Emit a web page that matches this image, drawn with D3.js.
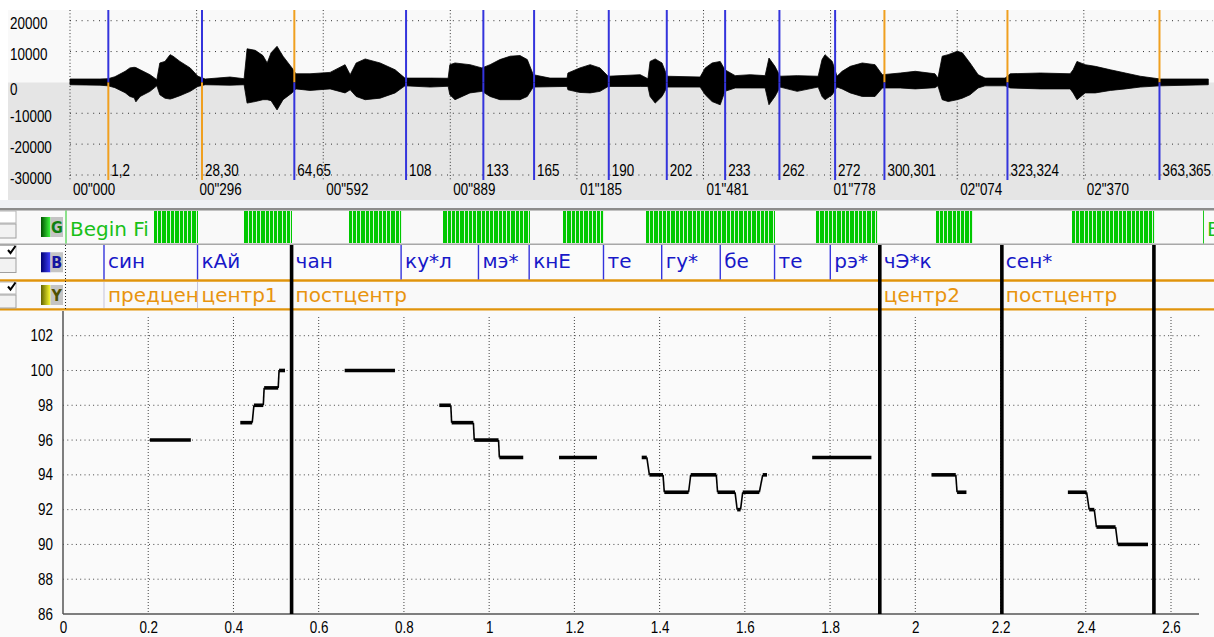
<!doctype html>
<html lang="ru">
<head>
<meta charset="utf-8">
<title>Pitch contour</title>
<script src="https://cdn.jsdelivr.net/npm/d3@7"></script>
<style>
  body { margin: 0; background: #fff; }
  svg { display: block; }
</style>
</head>
<body>
<svg id="chart" width="1214" height="637"></svg>
<script>

// ---- waveform envelope: time (s), upper and lower amplitude
var waveT = [0, 0.070, 0.089, 0.105, 0.129, 0.140, 0.150, 0.154, 0.164, 0.187,
  0.203, 0.210, 0.222, 0.234, 0.241, 0.257, 0.281, 0.299, 0.316, 0.374,
  0.407, 0.414, 0.433, 0.451, 0.461, 0.470, 0.484, 0.498, 0.519, 0.528,
  0.561, 0.608, 0.643, 0.655, 0.669, 0.690, 0.725, 0.760, 0.783, 0.842,
  0.884, 0.888, 0.900, 0.935, 0.963, 0.982, 1.005, 1.029, 1.052, 1.069,
  1.083, 1.122, 1.162, 1.164, 1.192, 1.216, 1.239, 1.258, 1.333, 1.351,
  1.356, 1.368, 1.384, 1.396, 1.473, 1.485, 1.501, 1.520, 1.531, 1.555,
  1.590, 1.625, 1.634, 1.648, 1.660, 1.700, 1.749, 1.758, 1.765, 1.782,
  1.793, 1.805, 1.824, 1.852, 1.882, 1.899, 1.941, 1.976, 2.022, 2.029,
  2.039, 2.053, 2.074, 2.086, 2.104, 2.123, 2.139, 2.186, 2.198, 2.268,
  2.338, 2.345, 2.354, 2.373, 2.397, 2.432, 2.467, 2.502, 2.549, 2.661];
var waveMax = [1100,1100,1200,1850,3600,4700,4900,4800,4100,2500,
  900,6300,6800,9000,8500,6800,4700,2000,1100,1750,
  1200,10900,10400,8700,6300,9600,11700,8500,4700,2800,
  2800,3250,5750,2500,6300,7600,6300,4100,1400,1400,
  1350,5750,6300,5750,4700,5750,7400,8500,8700,7400,
  2500,1400,1400,3050,4700,5750,4700,2000,2500,1200,
  6800,7600,6300,2000,1750,4700,6300,6800,4100,2200,
  2500,2200,7900,5200,2000,2200,2000,7400,9000,6800,
  2000,3600,5200,6300,5750,2500,3050,3600,2800,1400,
  8500,9000,10100,9600,6300,2500,1400,1400,2800,3050,
  2800,4100,6800,5750,5200,4100,3050,2000,1100,1100];
var waveMin = [-750,-900,-1100,-1700,-3350,-4550,-5000,-6300,-4550,-2900,
  -1100,-4000,-5100,-5400,-5100,-4300,-2900,-1300,-750,-900,
  -750,-6700,-6200,-5600,-5600,-5900,-8900,-5600,-3400,-2100,
  -2600,-2100,-3400,-2400,-4550,-5600,-5100,-3400,-1100,-1500,
  -1250,-4000,-5600,-3400,-2900,-4550,-5600,-5600,-5600,-4550,
  -1500,-1400,-1300,-2400,-3250,-3400,-2900,-1300,-1300,-1300,
  -4550,-6700,-4550,-1500,-1500,-4000,-6200,-7250,-2900,-1800,
  -1800,-1800,-7250,-4550,-1500,-2900,-1500,-4550,-5600,-4000,
  -1500,-2100,-3400,-4550,-4550,-1800,-1800,-2100,-1700,-1100,
  -5600,-6200,-5600,-5100,-4000,-1800,-1100,-1100,-1800,-2100,
  -2100,-3400,-5600,-3400,-3400,-2600,-2100,-1500,-1100,-750];

var waveAmpTicks = [20000, 10000, 0, -10000, -20000, -30000];
var waveTimeTicks = [0, 0.296, 0.592, 0.889, 1.185, 1.481, 1.778, 2.074, 2.370];
var waveTimeLabels = ['00"000', '00"296', '00"592', '00"889', '01"185', '01"481', '01"778', '02"074', '02"370'];

// period marks on the waveform: time, label, colour above / below zero
var markT = [0.0896, 0.3086, 0.5244, 0.7856, 0.9663, 1.0849, 1.2595, 1.3951, 1.5315, 1.6584, 1.7886, 1.9039, 2.1915, 2.5469];
var markLabel = ["1,2", "28,30", "64,65", "108", "133", "165", "190", "202", "233", "262", "272", "300,301", "323,324", "363,365"];
var markTop = ["b", "b", "o", "b", "b", "b", "b", "b", "b", "b", "b", "o", "o", "o"];
var markBottom = ["o", "o", "b", "b", "b", "b", "b", "b", "b", "b", "b", "b", "b", "b"];

// tiers
var bTimes = [0.0962, 0.3157, 0.5364, 0.7934, 0.9749, 1.0939, 1.2683, 1.4049, 1.5423, 1.6697, 1.8005, 1.9167, 2.2031, 2.5599];
var bLabels = ["син", "кАй", "чан", "ку*л", "мэ*", "кнЕ", "те", "гу*", "бе", "те", "рэ*", "чЭ*к", "сен*"];
var yBoundIdx = [0, 1, 2, 11, 12, 13];
var yLabels = ["предцентр", "центр1", "постцентр", "центр2", "постцентр"];
var gLabel = "Begin File";

// pitch contours (semitones): [start s, end s, value]
var pitchContours = [
  [[0.204, 0.300, 96]],
  [[0.416, 0.444, 97], [0.448, 0.470, 98], [0.472, 0.505, 99], [0.507, 0.521, 100]],
  [[0.661, 0.779, 100]],
  [[0.883, 0.910, 98], [0.912, 0.963, 97], [0.965, 1.022, 96], [1.024, 1.080, 95]],
  [[1.164, 1.253, 95]],
  [[1.358, 1.370, 95], [1.376, 1.408, 94], [1.411, 1.468, 93], [1.473, 1.533, 94],
   [1.536, 1.577, 93], [1.582, 1.590, 92], [1.595, 1.634, 93], [1.642, 1.652, 94]],
  [[1.758, 1.897, 95]],
  [[2.038, 2.095, 94], [2.098, 2.120, 93]],
  [[2.358, 2.402, 93], [2.408, 2.420, 92], [2.425, 2.470, 91], [2.475, 2.546, 90]]
];
var pitchXTicks = [0, 0.2, 0.4, 0.6, 0.8, 1, 1.2, 1.4, 1.6, 1.8, 2, 2.2, 2.4, 2.6];
var pitchYTicks = [86, 88, 90, 92, 94, 96, 98, 100, 102];

var BLUE = "#3434dc", ORANGE = "#f0a020";
var svg = d3.select("#chart");

var waveX = d3.scaleLinear().domain([0, 2.672]).range([70, 1213]);
var waveY = d3.scaleLinear().domain([-30000, 20000]).range([175, 20.7]);
var px = d3.scaleLinear().domain([0, 2.6]).range([63, 1171]);
var py = d3.scaleLinear().domain([86, 102]).range([614, 335.7]);

// narrow sans text
function nlabel(g, x, y, s, anchor) {
  return g.append("text")
    .attr("transform", "translate(" + x + "," + y + ") scale(0.84,1)")
    .attr("text-anchor", anchor || "start")
    .style("font-family", "'Liberation Sans', Arial, sans-serif")
    .style("font-size", "16px")
    .attr("fill", "#000")
    .text(s);
}

// cut a label down to the room of its interval, like the editor does
function fitText(sel, maxW) {
  var node = sel.node(), s = sel.text();
  while (s.length > 1 && node.getComputedTextLength() > maxW) {
    s = s.slice(0, -1);
    sel.text(s);
  }
  return sel;
}

// ================= waveform panel =================
var zeroY = waveY(0);
svg.append("rect").attr("x", 8).attr("y", 10).attr("width", 1206).attr("height", zeroY - 10).attr("fill", "#f9f9f9");
svg.append("rect").attr("x", 8).attr("y", zeroY).attr("width", 1206).attr("height", 200 - zeroY).attr("fill", "#e5e5e5");
svg.append("rect").attr("x", 0).attr("y", 200).attr("width", 1214).attr("height", 9).attr("fill", "#eff1f5");

var wave = svg.append("g");
waveAmpTicks.filter(function (v) { return v != 0; }).forEach(function (v) {
  wave.append("line").attr("x1", 70).attr("x2", 1213).attr("y1", waveY(v)).attr("y2", waveY(v))
    .attr("stroke", "#333").attr("stroke-dasharray", "1,4.8");
});
waveTimeTicks.forEach(function (t) {
  wave.append("line").attr("x1", waveX(t)).attr("x2", waveX(t)).attr("y1", 10).attr("y2", 180)
    .attr("stroke", "#333").attr("stroke-dasharray", "1,2.3");
});

var env = waveT.map(function (t, i) { return [t, waveMax[i], waveMin[i]]; });
wave.append("path").datum(env)
  .attr("d", d3.area().x(function (d) { return waveX(d[0]); })
    .y0(function (d) { return waveY(d[2]); }).y1(function (d) { return waveY(d[1]); }))
  .attr("fill", "#000").attr("stroke", "#000").attr("stroke-width", 0.8);

markT.forEach(function (t, i) {
  var x = waveX(t);
  wave.append("line").attr("x1", x).attr("x2", x).attr("y1", 10).attr("y2", zeroY)
    .attr("stroke", markTop[i] == "b" ? BLUE : ORANGE).attr("stroke-width", 2);
  wave.append("line").attr("x1", x).attr("x2", x).attr("y1", zeroY).attr("y2", 180)
    .attr("stroke", markBottom[i] == "b" ? BLUE : ORANGE).attr("stroke-width", 2);
  nlabel(wave, x + 3, 176, markLabel[i]);
});

waveAmpTicks.forEach(function (v) {
  nlabel(wave, 10, waveY(v) + (v == 0 ? 13 : 8.5), String(v));
});
waveTimeTicks.forEach(function (t, i) {
  nlabel(wave, waveX(t) + 3, 195, waveTimeLabels[i]);
});

// ================= tiers =================
var tierFont = "'DejaVu Sans', Verdana, sans-serif";
var tiers = svg.append("g");
var defs = svg.append("defs");

tiers.append("rect").attr("x", 0).attr("y", 210).attr("width", 1214).attr("height", 34).attr("fill", "#f9f9f9");
tiers.append("rect").attr("x", 0).attr("y", 245).attr("width", 1214).attr("height", 34.5).attr("fill", "#fbfbfb");
tiers.append("rect").attr("x", 0).attr("y", 281.5).attr("width", 1214).attr("height", 27).attr("fill", "#f9f9f9");

tiers.append("line").attr("x1", 0).attr("x2", 1214).attr("y1", 209.3).attr("y2", 209.3).attr("stroke", "#8c8c8c").attr("stroke-width", 2.4);
tiers.append("line").attr("x1", 0).attr("x2", 1214).attr("y1", 244.2).attr("y2", 244.2).attr("stroke", "#a8a8a8").attr("stroke-width", 1.6);
tiers.append("line").attr("x1", 0).attr("x2", 1214).attr("y1", 280.5).attr("y2", 280.5).attr("stroke", "#e0940c").attr("stroke-width", 2.4);
tiers.append("line").attr("x1", 0).attr("x2", 1214).attr("y1", 309.5).attr("y2", 309.5).attr("stroke", "#e0940c").attr("stroke-width", 2.4);

// tier headers
var heads = [
  {top: 210.5, h: 33, letter: "G", dark: "#005000", light: "#40ff40", ink: "#108010", check: false},
  {top: 245, h: 34.5, letter: "B", dark: "#000070", light: "#4040ff", ink: "#1414a0", check: true},
  {top: 281.5, h: 27, letter: "Y", dark: "#606000", light: "#ffff30", ink: "#505000", check: true}
];
heads.forEach(function (hd, i) {
  var grad = defs.append("linearGradient").attr("id", "grad" + i);
  grad.append("stop").attr("offset", "0%").attr("stop-color", hd.dark);
  grad.append("stop").attr("offset", "100%").attr("stop-color", hd.light);
  tiers.append("rect").attr("x", -1).attr("y", hd.top + 0.5).attr("width", 17).attr("height", 12)
    .attr("fill", "#fff").attr("stroke", "#b4b4b4");
  tiers.append("rect").attr("x", -1).attr("y", hd.top + 13.5).attr("width", 17).attr("height", Math.min(14, hd.h - 14))
    .attr("fill", "#f2f2f2").attr("stroke", "#a0a0a0");
  if (hd.check) {
    tiers.append("path").attr("d", "M8," + (hd.top + 5) + " l2.5,3 l5,-7")
      .attr("fill", "none").attr("stroke", "#000").attr("stroke-width", 2);
  }
  var iy = hd.top + (hd.h - 20) / 2;
  tiers.append("rect").attr("x", 41).attr("y", iy).attr("width", 9.5).attr("height", 20).attr("fill", "url(#grad" + i + ")");
  tiers.append("rect").attr("x", 50.5).attr("y", iy).attr("width", 12.5).attr("height", 20).attr("fill", "#c4c4c4");
  tiers.append("text").attr("x", 56.8).attr("y", iy + 16).attr("text-anchor", "middle")
    .style("font-family", "'DejaVu Sans Condensed', 'DejaVu Sans', sans-serif").style("font-size", "16px").style("font-weight", "bold")
    .attr("fill", hd.ink).text(hd.letter);
});

// left boundary of the tiers
tiers.append("line").attr("x1", 66).attr("x2", 66).attr("y1", 210.5).attr("y2", 243.5).attr("stroke", "#1ec81e");
tiers.append("line").attr("x1", 65.5).attr("x2", 65.5).attr("y1", 245).attr("y2", 311)
  .attr("stroke", "#222").attr("stroke-dasharray", "1,2");

// G tier: one green mark per pitch frame
var gRegions = pitchContours.map(function (c) { return [c[0][0], c[c.length - 1][1]]; });
fitText(tiers.append("text").attr("x", 70).attr("y", 236)
  .style("font-family", tierFont).style("font-size", "20px").attr("fill", "#18c018").text(gLabel),
  px(gRegions[0][0]) + 4 - 70);
var gMarks = tiers.append("g").attr("shape-rendering", "crispEdges");
gRegions.forEach(function (r) {
  var x0 = px(r[0]) + 4, x1 = px(r[1]) + 7;
  gMarks.append("rect").attr("x", x0).attr("y", 211).attr("width", x1 - x0).attr("height", 32).attr("fill", "#dff5df");
  for (var t = r[0]; px(t) + 4 < x1; t += 0.01) {
    var fx = px(t) + 4;
    gMarks.append("rect").attr("x", fx).attr("y", 211).attr("width", Math.max(1, Math.min(px(t + 0.01) + 4, x1) - fx - 1))
      .attr("height", 32).attr("fill", "#00c800");
  }
});
tiers.append("line").attr("x1", 1203.5).attr("x2", 1203.5).attr("y1", 210.5).attr("y2", 243.5).attr("stroke", "#1ec81e");
fitText(tiers.append("text").attr("x", 1207).attr("y", 236)
  .style("font-family", tierFont).style("font-size", "20px").attr("fill", "#18c018").text(gLabel), 1214 - 1207);

// B tier
bTimes.forEach(function (t) {
  tiers.append("line").attr("x1", px(t)).attr("x2", px(t)).attr("y1", 245).attr("y2", 279.5)
    .attr("stroke", BLUE).attr("stroke-width", 1.4);
});
bLabels.forEach(function (s, i) {
  var x0 = px(bTimes[i]), x1 = px(bTimes[i + 1]);
  fitText(tiers.append("text").attr("x", x0 + 4).attr("y", 268)
    .style("font-family", tierFont).style("font-size", "20px").attr("fill", "#1818c8").text(s), x1 - x0 - 3);
});

// Y tier
yBoundIdx.slice(0, 2).forEach(function (k) {
  tiers.append("line").attr("x1", px(bTimes[k])).attr("x2", px(bTimes[k])).attr("y1", 282).attr("y2", 308)
    .attr("stroke", "#c4c4dc").attr("stroke-width", 1);
});
yLabels.forEach(function (s, j) {
  var x0 = px(bTimes[yBoundIdx[j]]), x1 = px(bTimes[yBoundIdx[j + 1]]);
  defs.append("clipPath").attr("id", "clipY" + j).append("rect")
    .attr("x", x0).attr("y", 281.5).attr("width", x1 - x0).attr("height", 27);
  fitText(tiers.append("text").attr("x", x0 + 4).attr("y", 301.5).attr("clip-path", "url(#clipY" + j + ")")
    .style("font-family", tierFont).style("font-size", "20px").attr("fill", "#e8940e").text(s), x1 - x0);
});

// ================= pitch plot =================
svg.append("rect").attr("x", 0).attr("y", 310.7).attr("width", 1214).attr("height", 326.3).attr("fill", "#fafafa");
var plot = svg.append("g");

pitchYTicks.slice(1).forEach(function (v) {
  plot.append("line").attr("x1", 63).attr("x2", 1200).attr("y1", py(v)).attr("y2", py(v))
    .attr("stroke", "#444").attr("stroke-dasharray", "1,3.3");
});
pitchXTicks.slice(1).forEach(function (t) {
  plot.append("line").attr("x1", px(t)).attr("x2", px(t)).attr("y1", 317).attr("y2", 614)
    .attr("stroke", "#444").attr("stroke-dasharray", "1,2");
});

plot.append("line").attr("x1", 63).attr("x2", 63).attr("y1", 311).attr("y2", 614).attr("stroke", "#555").attr("stroke-width", 1.5);
plot.append("line").attr("x1", 63).attr("x2", 1199).attr("y1", 614).attr("y2", 614).attr("stroke", "#555").attr("stroke-width", 1.5);

var xAxis = plot.append("g").attr("transform", "translate(0,614)")
  .call(d3.axisBottom(px).tickValues(pitchXTicks).tickSize(0).tickPadding(8).tickFormat(d3.format("~g")));
var yAxis = plot.append("g").attr("transform", "translate(63,0)")
  .call(d3.axisLeft(py).tickValues(pitchYTicks).tickSize(0).tickPadding(12).tickFormat(d3.format("d")));
[xAxis, yAxis].forEach(function (ax) {
  ax.select(".domain").remove();
  ax.selectAll("text").attr("transform", "scale(0.84,1)").attr("fill", "#000")
    .style("font-family", "'Liberation Sans', Arial, sans-serif").style("font-size", "16px");
});

// phrase boundaries: thick black lines through tiers and plot
yBoundIdx.slice(2).forEach(function (k) {
  svg.append("line").attr("x1", px(bTimes[k])).attr("x2", px(bTimes[k])).attr("y1", 245).attr("y2", 614)
    .attr("stroke", "#000").attr("stroke-width", 3.6);
});

// pitch steps
var steps = plot.append("g");
pitchContours.forEach(function (c) {
  c.forEach(function (s, i) {
    steps.append("line").attr("x1", px(s[0])).attr("x2", px(s[1])).attr("y1", py(s[2])).attr("y2", py(s[2]))
      .attr("stroke", "#000").attr("stroke-width", 3.6);
    if (i < c.length - 1) {
      var n = c[i + 1];
      steps.append("line").attr("x1", px(s[1])).attr("x2", px(n[0])).attr("y1", py(s[2])).attr("y2", py(n[2]))
        .attr("stroke", "#000").attr("stroke-width", 1.6);
    }
  });
});

</script>
</body>
</html>
